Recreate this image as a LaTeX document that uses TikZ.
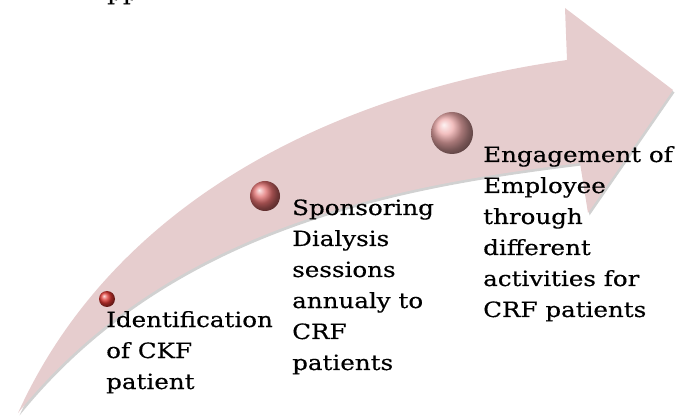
\documentclass[tikz,border=0pt]{standalone}
\usepackage{fontspec}
\setmainfont{DejaVu Serif}[FakeStretch=1.17, FakeBold=0.4]
\definecolor{bandpink}{RGB}{230,205,206}
\definecolor{beaddark}{RGB}{225,55,50}
\definecolor{beadmid}{RGB}{225,110,110}
\definecolor{beadpale}{RGB}{238,170,170}
\tikzset{
  band/.style={fill=bandpink, draw=none,
    preaction={fill=black!18, transform canvas={xshift=1.5pt, yshift=-2.5pt}}},
  bead/.style={circle, inner sep=0pt, shading=ball},
  milestone/.style={anchor=base west, inner sep=0pt, align=left,
    font=\fontsize{21}{31}\selectfont},
}

\begin{document}
\begin{tikzpicture}[x=1pt, y=-1pt]
  \useasboundingbox (0,0) rectangle (677,419);

  % curved arrow
  \path[band] (18,413) .. controls (110,210) and (320,95) .. (567,60)
    -- (565,8) -- (673,90) -- (588,213) -- (580,163)
    .. controls (400,185) and (170,225) .. (18,413) -- cycle;

  \node[bead, minimum size=16pt, ball color=beaddark] (first) at (107,299) {};
  \node[bead, minimum size=30pt, ball color=beadmid] (second) at (265,196) {};
  \node[bead, minimum size=42pt, ball color=beadpale] (third) at (452,133) {};

  % anchored at the baseline of the last line
  \node[milestone] (cut) at (107,0) {pp};
  \node[milestone] (ident) at (106,389) {Identification\\of CKF\\patient};
  \node[milestone] (sponsor) at (292,370) {Sponsoring\\Dialysis\\sessions\\annualy to\\CRF\\patients};
  \node[milestone] (engage) at (483,317) {Engagement of\\Employee\\through\\different\\activities for\\CRF patients};
\end{tikzpicture}
\end{document}
